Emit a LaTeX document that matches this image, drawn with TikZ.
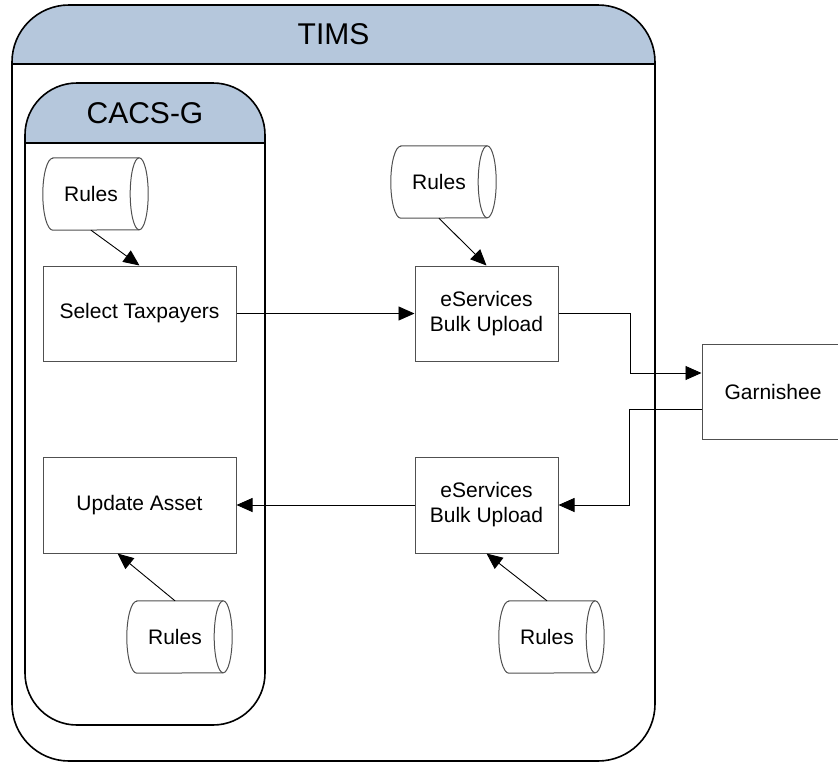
\documentclass[tikz,border=0pt]{standalone}
\usepackage{fontspec}
\setmainfont{Liberation Sans}
\usetikzlibrary{arrows.meta,calc}

\definecolor{hdrblue}{RGB}{181,199,220}
\definecolor{boxgray}{RGB}{80,80,80}

\tikzset{
  container/.style={draw=black, line width=1.6pt},
  boxline/.style={draw=boxgray, line width=1pt},
  procbox/.style={boxline, rectangle, inner sep=2pt, align=center,
    font=\fontsize{21}{25}\selectfont},
  dbnode/.style={rectangle, inner sep=0pt, minimum width=96pt, minimum height=72pt,
    font=\fontsize{21}{25}\selectfont},
  title/.style={font=\fontsize{30}{34}\selectfont},
  flow/.style={draw=black, line width=0.9pt, -{Triangle[length=16pt,width=14pt]}},
}

% Horizontal storage cylinder labelled "Rules": name, centre
\newcommand\rulesdb[2]{%
  \node[dbnode] (#1) at (#2) {Rules};
  \draw[boxline] ([xshift=10pt]#1.north west) -- (#1.north east)
    arc[start angle=90, end angle=-90, x radius=9pt, y radius=36pt]
    -- ([xshift=10pt]#1.south west)
    arc[start angle=270, end angle=90, x radius=10pt, y radius=36pt] -- cycle;
  \draw[boxline] (#1.north east)
    arc[start angle=90, end angle=270, x radius=9pt, y radius=36pt];
}

\begin{document}
\begin{tikzpicture}[x=1pt, y=1pt]
  \useasboundingbox (0,0) rectangle (838,-763);
  \fill[white] (0,0) rectangle (838,-763);

  % TIMS container with shaded header band
  \begin{scope}
    \clip (0,0) rectangle (838,-64);
    \fill[hdrblue, rounded corners=57pt] (12,-5) rectangle (655,-761);
  \end{scope}
  \draw[container] (12,-64) -- (655,-64);
  \draw[container, rounded corners=57pt] (12,-5) rectangle (655,-761);
  \node[title] (tims) at (333.5,-34.5) {TIMS};

  % CACS-G container with shaded header band
  \begin{scope}
    \clip (0,-83) rectangle (838,-143);
    \fill[hdrblue, rounded corners=52pt] (25,-83) rectangle (265,-725);
  \end{scope}
  \draw[container] (25,-143) -- (265,-143);
  \draw[container, rounded corners=52pt] (25,-83) rectangle (265,-725);
  \node[title] (cacs) at (145,-113) {CACS-G};

  % process boxes
  \node[procbox, minimum width=193pt, minimum height=95pt] (sel) at (139.5,-313.5) {Select Taxpayers};
  \node[procbox, minimum width=193pt, minimum height=96pt] (upd) at (139.5,-505) {Update Asset};
  \node[procbox, minimum width=143pt, minimum height=95pt] (es1) at (486.5,-313.5) {eServices\\Bulk Upload};
  \node[procbox, minimum width=143pt, minimum height=96pt] (es2) at (486.5,-505) {eServices\\Bulk Upload};
  \node[procbox, minimum width=142pt, minimum height=95pt] (garn) at (773,-391.5) {Garnishee};

  % rule stores
  \rulesdb{r1}{91,-194}
  \rulesdb{r2}{439,-182}
  \rulesdb{r3}{175,-637}
  \rulesdb{r4}{547,-637}

  % connectors
  \draw[flow] (r1.south) -- (sel.north);
  \draw[flow] (r2.south) -- (es1.north);
  \draw[flow] (r3.north) -- ([xshift=-22pt]upd.south);
  \draw[flow] (r4.north) -- (es2.south);
  \draw[flow] (sel.east) -- (es1.west);
  \draw[flow] (es1.east) -- ++(72,0) |- ([yshift=18.5pt]garn.west);
  \draw[flow] ([yshift=-17.5pt]garn.west) -- ++(-72,0) |- (es2.east);
  \draw[flow] (es2.west) -- (upd.east);
\end{tikzpicture}
\end{document}
